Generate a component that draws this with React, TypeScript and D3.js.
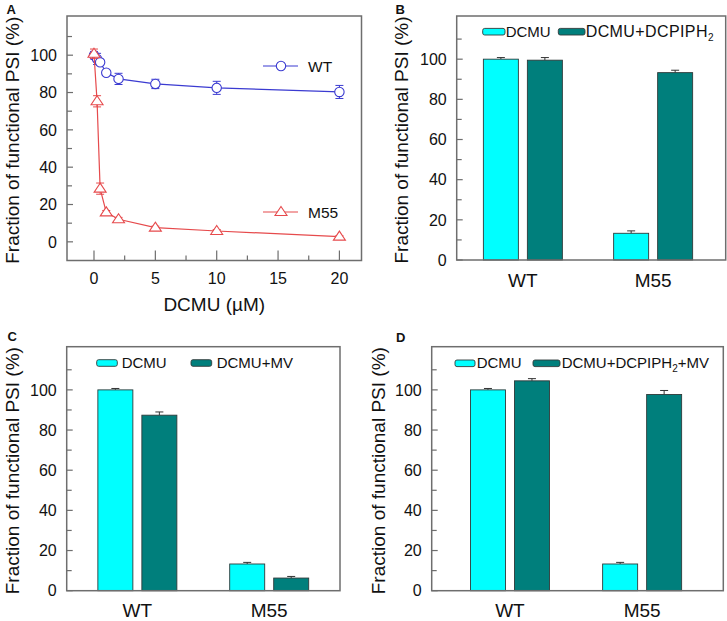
import * as d3 from "d3";

const FONT = "'Liberation Sans', Arial, Helvetica, sans-serif";

// Panel A: fraction of functional PSI vs DCMU (µM)
const dcmuDose = [0, 0.25, 0.5, 1, 2, 5, 10, 20];
const wtFraction = [100, 98, 96.2, 90.6, 87.3, 84.6, 82.5, 80.3];
const wtErr = [2, 3, 1.5, 1, 3, 2.5, 3.5, 3.5];
const m55Fraction = [100.8, 75.3, 28.5, 15.8, 12.1, 7.6, 5.8, 2.8];
const m55Err = [2.5, 3, 3, 1, 1, 0.8, 0.8, 0.5];

// Panels B-D: grouped bars
const groups = ["WT", "M55"];
const dcmuB = [100, 13.3];
const dcmuBErr = [0.8, 1.2];
const dcpiphB = [99.5, 93.3];
const dcpiphBErr = [1.3, 1.2];
const dcmuC = [100, 13.3];
const dcmuCErr = [0.7, 0.8];
const mvC = [87.4, 6.3];
const mvCErr = [1.6, 0.8];
const dcmuD = [100, 13.3];
const dcmuDErr = [0.7, 0.8];
const dcpiphMvD = [104.5, 97.7];
const dcpiphMvDErr = [1.1, 2];

const yTicks = [0, 20, 40, 60, 80, 100];
const yMinor = [10, 30, 50, 70, 90, 110];
const doseTicks = [0, 5, 10, 15, 20];
const doseMinor = [2.5, 7.5, 12.5, 17.5];

const CYAN = "#00ffff";
const TEAL = "#007f7c";
const FRAME = "#6e6e6e";
const BLUE = "#3b3bd1";
const RED = "#e64a4c";
const YLABEL = "Fraction of functional PSI (%)";

type Box = { l: number; t: number; r: number; b: number };

function YAxis({ box, y, labelX }: { box: Box; y: d3.ScaleLinear<number, number>; labelX: number }) {
  return (
    <g>
      {yTicks.map((v) => (
        <g key={"m" + v}>
          <line x1={box.l} x2={box.l + 6} y1={y(v)} y2={y(v)} stroke={FRAME} strokeWidth={1.2} />
          <text x={box.l - 10} y={y(v)} dy="0.36em" textAnchor="end" fontSize={16}>
            {v}
          </text>
        </g>
      ))}
      {yMinor.map((v) => (
        <line key={"n" + v} x1={box.l} x2={box.l + 5} y1={y(v)} y2={y(v)} stroke={FRAME} strokeWidth={1.2} />
      ))}
      <text
        transform={`translate(${labelX},${(box.t + box.b) / 2 + 2}) rotate(-90)`}
        textAnchor="middle"
        fontSize={19}
      >
        {YLABEL}
      </text>
      <rect x={box.l} y={box.t} width={box.r - box.l} height={box.b - box.t} fill="none" stroke={FRAME} strokeWidth={1.5} />
    </g>
  );
}

function DosePanel() {
  const box: Box = { l: 67, t: 16, r: 361.5, b: 260.5 };
  const x = d3.scaleLinear().domain([-2.2, 21.8]).range([box.l, box.r]);
  const y = d3.scaleLinear().domain([-10, 121]).range([box.b, box.t]);
  const wt = dcmuDose.map((d, i) => ({ d, v: wtFraction[i], e: wtErr[i] }));
  const m55 = dcmuDose.map((d, i) => ({ d, v: m55Fraction[i], e: m55Err[i] }));
  const line = d3
    .line<{ d: number; v: number }>()
    .x((p) => x(p.d))
    .y((p) => y(p.v));
  const tri = "M0,-5.5L6,3.5L-6,3.5Z";
  const errBar = (p: { d: number; v: number; e: number }, color: string, k: string) => (
    <g key={k} stroke={color} strokeWidth={1}>
      <line x1={x(p.d)} x2={x(p.d)} y1={y(p.v - p.e)} y2={y(p.v + p.e)} />
      <line x1={x(p.d) - 4} x2={x(p.d) + 4} y1={y(p.v - p.e)} y2={y(p.v - p.e)} />
      <line x1={x(p.d) - 4} x2={x(p.d) + 4} y1={y(p.v + p.e)} y2={y(p.v + p.e)} />
    </g>
  );
  return (
    <g>
      {doseTicks.map((v) => (
        <g key={"x" + v}>
          <line x1={x(v)} x2={x(v)} y1={box.b} y2={box.b - 10} stroke={FRAME} strokeWidth={1.2} />
          <text x={x(v)} y={box.b + 23.5} textAnchor="middle" fontSize={16}>
            {v}
          </text>
        </g>
      ))}
      {doseMinor.map((v) => (
        <line key={"xm" + v} x1={x(v)} x2={x(v)} y1={box.b} y2={box.b - 5} stroke={FRAME} strokeWidth={1.2} />
      ))}
      <text x={(box.l + box.r) / 2} y={311} textAnchor="middle" fontSize={19}>
        DCMU (µM)
      </text>
      <YAxis box={box} y={y} labelX={19} />

      {/* WT */}
      <path d={line(wt) ?? ""} fill="none" stroke={BLUE} strokeWidth={1.2} />
      {wt.map((p, i) => errBar(p, BLUE, "we" + i))}
      {wt.map((p, i) => (
        <circle key={"wc" + i} cx={x(p.d)} cy={y(p.v)} r={4.7} fill="white" stroke={BLUE} strokeWidth={1.1} />
      ))}
      {/* M55 */}
      <path d={line(m55) ?? ""} fill="none" stroke={RED} strokeWidth={1.2} />
      {m55.map((p, i) => errBar(p, RED, "me" + i))}
      {m55.map((p, i) => (
        <path key={"mt" + i} d={tri} transform={`translate(${x(p.d)},${y(p.v)})`} fill="white" stroke={RED} strokeWidth={1.1} />
      ))}

      {/* legend */}
      <line x1={263} x2={298} y1={66} y2={66} stroke={BLUE} strokeWidth={1.2} />
      <circle cx={281} cy={66} r={4.7} fill="white" stroke={BLUE} strokeWidth={1.1} />
      <text x={308} y={71.5} fontSize={15.5}>
        WT
      </text>
      <line x1={263} x2={298} y1={212} y2={212} stroke={RED} strokeWidth={1.2} />
      <path d={tri} transform="translate(281,212)" fill="white" stroke={RED} strokeWidth={1.1} />
      <text x={308} y={217.5} fontSize={15.5}>
        M55
      </text>
    </g>
  );
}

type BarProps = {
  box: Box;
  xDomain: [number, number];
  first: number[];
  firstErr: number[];
  second: number[];
  secondErr: number[];
  legend: { s1: [number, number]; t1: number; s2: [number, number]; t2: number; cy: number; base: number };
  secondLabel: React.ReactNode;
  secondSize?: number;
  secondSpacing?: number;
  labelX: number;
};

function BarPanel({ box, xDomain, first, firstErr, second, secondErr, legend, secondLabel, secondSize = 15, secondSpacing = 0, labelX }: BarProps) {
  const x = d3.scaleLinear().domain(xDomain).range([box.l, box.r]);
  const y = d3.scaleLinear().domain([0, 121.5]).range([box.b, box.t]);
  const bw = 35;
  const off = 22;
  const series = [
    { vals: first, errs: firstErr, color: CYAN, dx: -off },
    { vals: second, errs: secondErr, color: TEAL, dx: off },
  ];
  return (
    <g>
      {series.map((s, si) =>
        s.vals.map((v, gi) => {
          const cx = x(gi) + s.dx;
          return (
            <g key={`b${si}-${gi}`}>
              <line x1={cx} x2={cx} y1={y(v)} y2={y(v + s.errs[gi])} stroke="#333" strokeWidth={1} />
              <line x1={cx - 4} x2={cx + 4} y1={y(v + s.errs[gi])} y2={y(v + s.errs[gi])} stroke="#333" strokeWidth={1} />
              <rect x={cx - bw / 2} y={y(v)} width={bw} height={y(0) - y(v)} fill={s.color} stroke="#2f3a3a" strokeWidth={0.9} />
            </g>
          );
        })
      )}
      {groups.map((g, gi) => (
        <text key={g} x={x(gi)} y={box.b + 26.5} textAnchor="middle" fontSize={19}>
          {g}
        </text>
      ))}
      <YAxis box={box} y={y} labelX={labelX} />
      <rect x={legend.s1[0]} y={legend.cy - 3.3} width={legend.s1[1] - legend.s1[0]} height={6.6} rx={2} fill={CYAN} stroke="#2f3a3a" strokeWidth={0.9} />
      <text x={legend.t1} y={legend.base} fontSize={15}>
        DCMU
      </text>
      <rect x={legend.s2[0]} y={legend.cy - 3.3} width={legend.s2[1] - legend.s2[0]} height={6.6} rx={2} fill={TEAL} stroke="#2f3a3a" strokeWidth={0.9} />
      <text x={legend.t2} y={legend.base} fontSize={secondSize} letterSpacing={secondSpacing}>
        {secondLabel}
      </text>
    </g>
  );
}

export default function App() {
  return (
    <svg
      width={727}
      height={621}
      viewBox="0 0 727 621"
      style={{ position: "absolute", left: 0, top: 0, background: "white" }}
      fontFamily={FONT}
      fill="#111"
    >
      <rect width={727} height={621} fill="white" />
      <DosePanel />
      <BarPanel
        box={{ l: 456.7, t: 16, r: 725.7, b: 260 }}
        xDomain={[-0.508, 1.557]}
        first={dcmuB}
        firstErr={dcmuBErr}
        second={dcpiphB}
        secondErr={dcpiphBErr}
        legend={{ s1: [482.7, 505], t1: 505.7, s2: [558.3, 585], t2: 585.7, cy: 31.7, base: 36.5 }}
        secondLabel={
          <>
            <tspan>DCMU+DCPIPH</tspan>
            <tspan fontSize={10} dy={4}>
              2
            </tspan>
          </>
        }
        secondSize={16}
        secondSpacing={0.4}
        labelX={408}
      />
      <BarPanel
        box={{ l: 66.7, t: 346.7, r: 340, b: 590.7 }}
        xDomain={[-0.536, 1.537]}
        first={dcmuC}
        firstErr={dcmuCErr}
        second={mvC}
        secondErr={mvCErr}
        legend={{ s1: [96.7, 117.3], t1: 121.7, s2: [191, 211.7], t2: 216.7, cy: 363, base: 367.5 }}
        secondLabel="DCMU+MV"
        labelX={19}
      />
      <BarPanel
        box={{ l: 431.7, t: 346.7, r: 723.3, b: 590.7 }}
        xDomain={[-0.592, 1.614]}
        first={dcmuD}
        firstErr={dcmuDErr}
        second={dcpiphMvD}
        secondErr={dcpiphMvDErr}
        legend={{ s1: [455, 475], t1: 476.7, s2: [533, 560], t2: 561.7, cy: 363.3, base: 367.5 }}
        secondLabel={
          <>
            <tspan>DCMU+DCPIPH</tspan>
            <tspan fontSize={10} dy={4}>
              2
            </tspan>
            <tspan dy={-4}>+MV</tspan>
          </>
        }
        labelX={385}
      />
      <g fontWeight="bold" fontSize={13}>
        <text x={6.5} y={13.5}>A</text>
        <text x={395.5} y={13.5}>B</text>
        <text x={7.5} y={340.5}>C</text>
        <text x={396} y={342}>D</text>
      </g>
    </svg>
  );
}
